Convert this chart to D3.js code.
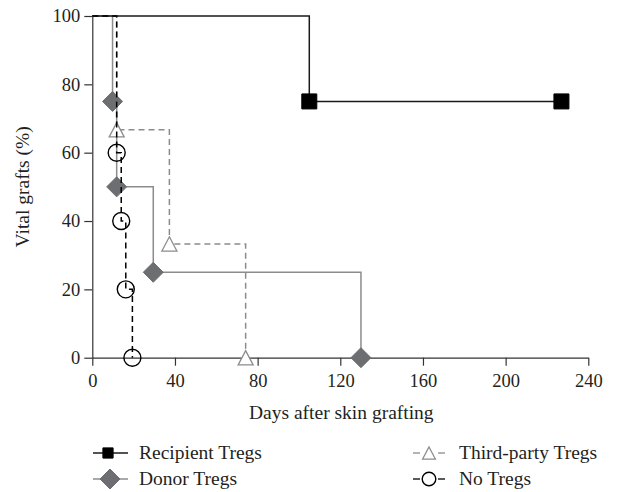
<!DOCTYPE html>
<html><head><meta charset="utf-8">
<script src="https://cdn.jsdelivr.net/npm/d3@7"></script>
<style>body{margin:0;background:#fff}svg{display:block}text{font-family:"Liberation Serif","DejaVu Serif",serif;fill:#231f20}</style>
</head><body><svg id="c" width="628" height="492"></svg>
<script>
const xTicks = [0, 40, 80, 120, 160, 200, 240];
const yTicks = [0, 20, 40, 60, 80, 100];

const recipientDays = [0, 105, 227];
const recipientPct  = [100, 75, 75];
const donorDays = [0, 9.8, 11.8, 29.5, 130];
const donorPct  = [100, 75, 50, 25, 0];
const thirdDays = [0, 11.8, 37.3, 74.2];
const thirdPct  = [100, 66.7, 33.3, 0];
const noneDays = [0, 11.8, 14, 16.2, 19.4];
const nonePct  = [100, 60, 40, 20, 0];

const labels = ["Recipient Tregs", "Donor Tregs", "Third-party Tregs", "No Tregs"];

const svg = d3.select("#c");
const x = d3.scaleLinear().domain([0, 240]).range([92.3, 588.3]);
const y = d3.scaleLinear().domain([0, 100]).range([357.7, 16]);

const axisColor = "#333";
const gx = svg.append("g").attr("transform", `translate(0,${y(0)})`)
  .call(d3.axisBottom(x).tickValues(xTicks).tickSize(8).tickPadding(8).tickSizeOuter(0));
gx.selectAll("text").style("font-size", "18.5px");
const gy = svg.append("g").attr("transform", `translate(${x(0)},0)`)
  .call(d3.axisLeft(y).tickValues(yTicks).tickSize(8).tickPadding(4).tickSizeOuter(0));
gy.selectAll("text").style("font-size", "18.5px");
svg.selectAll(".domain, .tick line").attr("stroke", axisColor).attr("stroke-width", 1.2);
svg.selectAll(".tick text").attr("fill", "#231f20");

svg.append("text").attr("transform", `translate(29,${(y(0)+y(100))/2}) rotate(-90)`)
  .attr("text-anchor", "middle").style("font-size", "19.5px").text("Vital grafts (%)");
svg.append("text").attr("x", (x(0)+x(240))/2 + 1).attr("y", 419)
  .attr("text-anchor", "middle").style("font-size", "19.5px").text("Days after skin grafting");

function stepData(days, pct) { return days.map((d, i) => ({d, p: pct[i]})); }
const line = d3.line().x(v => x(v.d)).y(v => y(v.p)).curve(d3.curveStepAfter);

const series = [
  {key: "donor", data: stepData(donorDays, donorPct), color: "#8c8c8c", dash: null, width: 1.5, marker: "diamond", fill: "#6d6e71", stroke: "#6d6e71"},
  {key: "third", data: stepData(thirdDays, thirdPct), color: "#8c8c8c", dash: "6,4", width: 1.5, marker: "triangle", fill: "#fff", stroke: "#8c8c8c"},
  {key: "recipient", data: stepData(recipientDays, recipientPct), color: "#1a1a1a", dash: null, width: 1.5, marker: "square", fill: "#000", stroke: "#000"},
  {key: "none", data: stepData(noneDays, nonePct), color: "#000", dash: "6,4", width: 1.5, marker: "circle", fill: "none", stroke: "#000"},
];

function markerPath(type, s) {
  if (type === "diamond") return `M0,${-s}L${s},0L0,${s}L${-s},0Z`;
  if (type === "triangle") return `M0,${-s*0.95}L${s},${s*0.95}L${-s},${s*0.95}Z`;
  if (type === "square") return `M${-s},${-s}H${s}V${s}H${-s}Z`;
  return null;
}
const mSize = {diamond: 10, triangle: 7.5, square: 7.5, circle: 8.5};

function drawMarker(g, type, cx, cy, sc, st, scale) {
  const s = mSize[type] * (scale || 1);
  if (type === "circle") {
    g.append("circle").attr("cx", cx).attr("cy", cy).attr("r", s).attr("fill", sc.fill).attr("stroke", st).attr("stroke-width", 1.4);
  } else {
    g.append("path").attr("d", markerPath(type, s)).attr("transform", `translate(${cx},${cy})`)
      .attr("fill", sc.fill).attr("stroke", st).attr("stroke-width", type === "triangle" ? 1.3 : 1);
  }
}

series.forEach(sr => {
  const g = svg.append("g");
  g.append("path").datum(sr.data).attr("d", line).attr("fill", "none")
    .attr("stroke", sr.color).attr("stroke-width", sr.width).attr("stroke-dasharray", sr.dash);
  sr.data.slice(1).forEach(v => drawMarker(g, sr.marker, x(v.d), y(v.p), sr, sr.stroke));
});

// legend
const leg = [
  {label: labels[0], sr: series[2], lx: 93, mx: 108, rx: 128, tx: 139, ty: 453, sc: 0.68},
  {label: labels[1], sr: series[0], lx: 93, mx: 110, rx: 128, tx: 139, ty: 479, sc: 1},
  {label: labels[2], sr: series[1], lx: 413, mx: 429, rx: 445, tx: 459, ty: 453, sc: 0.85},
  {label: labels[3], sr: series[3], lx: 413, mx: 429, rx: 445, tx: 459, ty: 479, sc: 0.8},
];
leg.forEach(l => {
  const g = svg.append("g");
  if (l.sr.dash) {
    g.append("line").attr("x1", l.lx).attr("x2", l.mx - 9).attr("y1", l.ty).attr("y2", l.ty).attr("stroke", l.sr.color).attr("stroke-width", 1.3);
    g.append("line").attr("x1", l.mx + 9).attr("x2", l.rx).attr("y1", l.ty).attr("y2", l.ty).attr("stroke", l.sr.color).attr("stroke-width", 1.3);
  } else {
    g.append("line").attr("x1", l.lx).attr("x2", l.rx).attr("y1", l.ty).attr("y2", l.ty).attr("stroke", l.sr.color).attr("stroke-width", 1.5);
  }
  drawMarker(g, l.sr.marker, l.mx, l.ty, l.sr, l.sr.stroke, l.sc);
  g.append("text").attr("x", l.tx).attr("y", l.ty + 6).style("font-size", "19.5px").text(l.label);
});
</script></body></html>
